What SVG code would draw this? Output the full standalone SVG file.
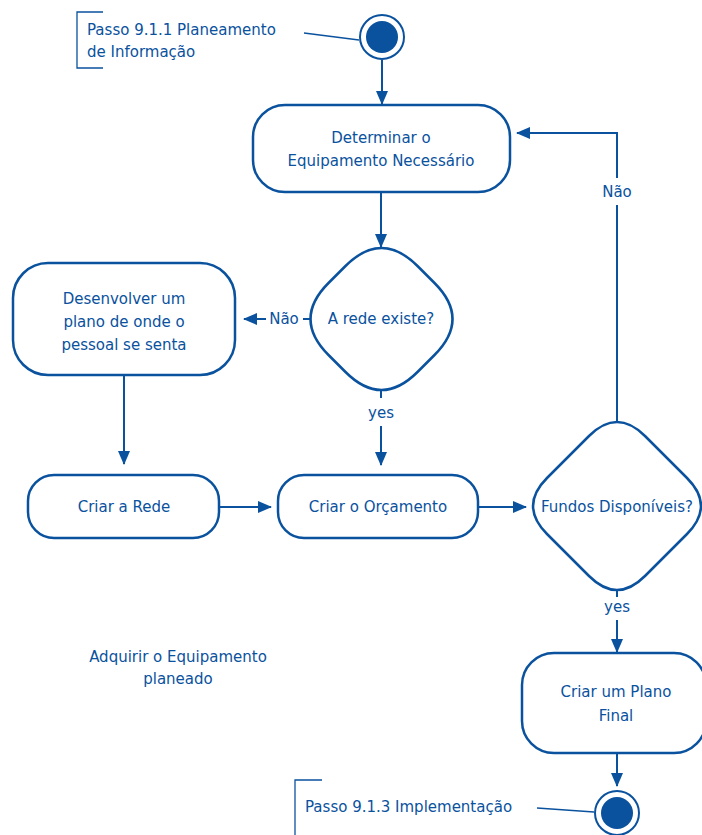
<svg xmlns="http://www.w3.org/2000/svg" width="702" height="835" viewBox="0 0 702 835">
  <defs>
    <marker id="arrow" viewBox="0 0 14 12" refX="13" refY="6" markerWidth="14" markerHeight="12" markerUnits="userSpaceOnUse" orient="auto">
      <path d="M0,0 L14,6 L0,12 Z" fill="#0A529E"/>
    </marker>
  </defs>
  <style>
    .shape { fill: #ffffff; stroke: #0A529E; stroke-width: 2.5; }
    .line { fill: none; stroke: #0A529E; stroke-width: 2; }
    .thin { fill: none; stroke: #0A529E; stroke-width: 1.3; }
    text { font-family: "DejaVu Sans", "Liberation Sans", sans-serif; font-size: 15px; fill: #0A529E; }
    .c { text-anchor: middle; }
  </style>
  <rect width="702" height="835" fill="#ffffff"/>

  <!-- connectors -->
  <g id="connectors">
    <line class="line" x1="382" y1="60" x2="382" y2="104" marker-end="url(#arrow)"/>
    <line class="line" x1="381" y1="192" x2="381" y2="247" marker-end="url(#arrow)"/>
    <line class="line" x1="303" y1="319" x2="311" y2="319"/>
    <line class="line" x1="266" y1="319" x2="244" y2="319" marker-end="url(#arrow)"/>
    <text x="284" y="324" class="c">Não</text>
    <line class="line" x1="381" y1="388" x2="381" y2="398"/>
    <text x="381" y="418" class="c">yes</text>
    <line class="line" x1="381" y1="426" x2="381" y2="465" marker-end="url(#arrow)"/>
    <line class="line" x1="124" y1="375" x2="124" y2="464" marker-end="url(#arrow)"/>
    <line class="line" x1="219" y1="507" x2="271" y2="507" marker-end="url(#arrow)"/>
    <line class="line" x1="478" y1="507" x2="526" y2="507" marker-end="url(#arrow)"/>
    <polyline class="line" points="617,422 617,205"/>
    <text x="617" y="197" class="c">Não</text>
    <polyline class="line" points="617,178 617,133 517,133" marker-end="url(#arrow)"/>
    <line class="line" x1="617" y1="590" x2="617" y2="597"/>
    <text x="617" y="612" class="c">yes</text>
    <line class="line" x1="617" y1="620" x2="617" y2="652" marker-end="url(#arrow)"/>
    <line class="line" x1="617" y1="753" x2="617" y2="786" marker-end="url(#arrow)"/>
    <line class="thin" x1="304" y1="33" x2="359" y2="40"/>
    <line class="thin" x1="537" y1="808" x2="594" y2="812"/>
  </g>

  <!-- start -->
  <g id="start">
    <circle cx="382" cy="37" r="22" fill="#ffffff" stroke="#0A529E" stroke-width="2"/>
    <circle cx="382" cy="37" r="16" fill="#0A529E"/>
  </g>
  <g id="note-start">
    <polyline class="thin" points="103,12 77,12 77,68 103,68"/>
    <text x="87" y="35">Passo 9.1.1 Planeamento</text>
    <text x="87" y="57">de Informação</text>
  </g>

  <g id="determinar">
    <rect class="shape" x="253" y="105" width="257" height="87" rx="32"/>
    <text x="381" y="143" class="c">Determinar o</text>
    <text x="381" y="166" class="c">Equipamento Necessário</text>
  </g>

  <!-- rounded diamond: vertex half-size 89, corner offset 36 -->
  <g id="rede-existe">
    <path class="shape" d="M345.5,266 Q381.5,230 417.5,266 L434.5,283 Q470.5,319 434.5,355 L417.5,372 Q381.5,408 345.5,372 L328.5,355 Q292.5,319 328.5,283 Z"/>
    <text x="381" y="324" class="c">A rede existe?</text>
  </g>

  <g id="desenvolver">
    <rect class="shape" x="13" y="263" width="222" height="112" rx="35"/>
    <text x="124" y="304" class="c">Desenvolver um</text>
    <text x="124" y="327" class="c">plano de onde o</text>
    <text x="124" y="350" class="c">pessoal se senta</text>
  </g>

  <g id="criar-rede">
    <rect class="shape" x="28" y="475" width="191" height="63" rx="26"/>
    <text x="124" y="512" class="c">Criar a Rede</text>
  </g>

  <g id="criar-orcamento">
    <rect class="shape" x="278" y="475" width="200" height="63" rx="26"/>
    <text x="378" y="512" class="c">Criar o Orçamento</text>
  </g>

  <!-- rounded diamond: vertex half-size 98, corner offset 28 -->
  <g id="fundos">
    <path class="shape" d="M589,436 Q617,408 645,436 L687,478 Q715,506 687,534 L645,576 Q617,604 589,576 L547,534 Q519,506 547,478 Z"/>
    <text x="617" y="512" class="c">Fundos Disponíveis?</text>
  </g>

  <g id="plano-final">
    <rect class="shape" x="522" y="653" width="184" height="100" rx="32"/>
    <text x="616" y="697" class="c">Criar um Plano</text>
    <text x="616" y="721" class="c">Final</text>
  </g>

  <g id="adquirir">
    <text x="178" y="662" class="c">Adquirir o Equipamento</text>
    <text x="178" y="684" class="c">planeado</text>
  </g>

  <g id="end">
    <circle cx="617" cy="813" r="22" fill="#ffffff" stroke="#0A529E" stroke-width="2"/>
    <circle cx="617" cy="813" r="16" fill="#0A529E"/>
  </g>
  <g id="note-end">
    <polyline class="thin" points="322,780 295,780 295,835"/>
    <text x="305" y="812">Passo 9.1.3 Implementação</text>
  </g>
</svg>
